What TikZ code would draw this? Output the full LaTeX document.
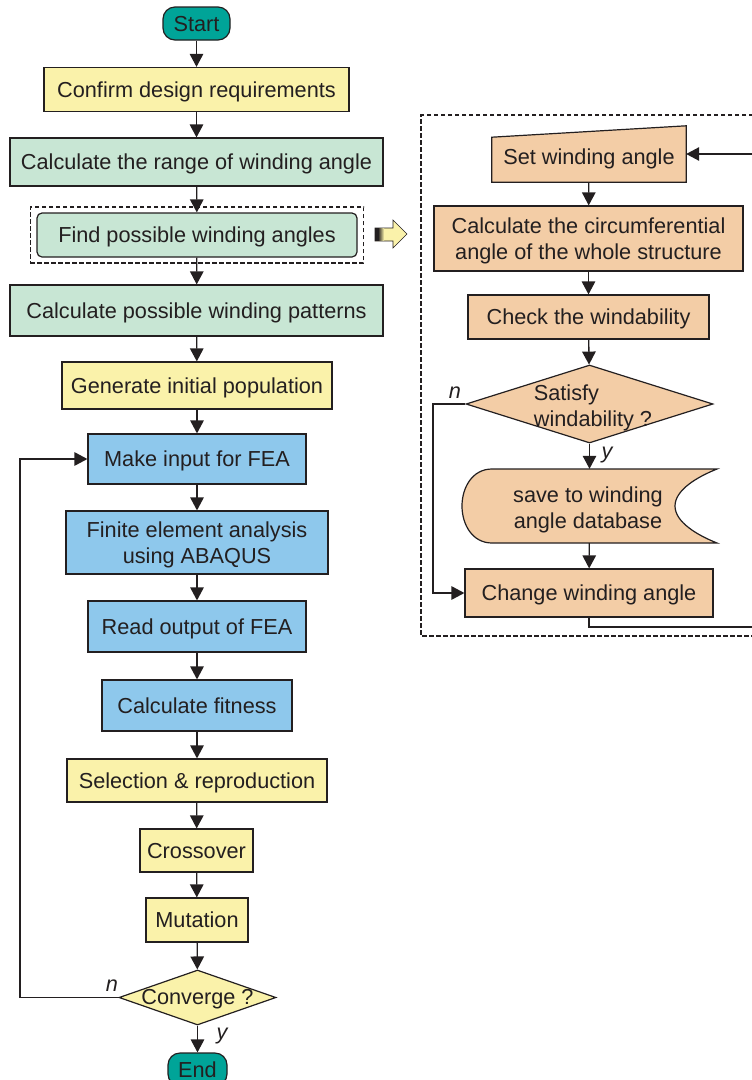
\documentclass[tikz,border=0pt]{standalone}
\usepackage{fontspec}
\setmainfont{Liberation Sans}
\usetikzlibrary{arrows.meta,shapes.geometric,fit}
\definecolor{ink}{RGB}{35,31,32}
\definecolor{tealf}{RGB}{0,164,152}
\definecolor{yelf}{RGB}{250,242,170}
\definecolor{grnf}{RGB}{200,230,212}
\definecolor{bluf}{RGB}{142,200,236}
\definecolor{pchf}{RGB}{243,205,166}
\tikzset{
  base/.style={draw=ink, line width=1.2pt, inner sep=0pt, align=center, text=ink,
    font=\fontsize{21.7}{26}\selectfont, text height=15.6pt, text depth=0pt},
  two/.style={text height=41.6pt, text depth=0pt},
  boxy/.style={base, fill=yelf},
  boxg/.style={base, fill=grnf},
  boxb/.style={base, fill=bluf},
  boxp/.style={base, fill=pchf},
  term/.style={base, fill=tealf, rounded corners=12pt},
  dec/.style={base, diamond, aspect=2.8},
  arr/.style={draw=ink, line width=1.3pt, -{Triangle[length=13pt,width=13.5pt]}},
  ln/.style={draw=ink, line width=1.3pt},
  lab/.style={text=ink, font=\fontsize{21.7}{26}\selectfont\itshape, inner sep=0pt},
  txt/.style={text=ink, font=\fontsize{21.7}{26}\selectfont, inner sep=0pt, align=center},
  dsh/.style={draw=ink, line width=1.6pt, dash pattern=on 4.5pt off 2.5pt},
}
\begin{document}
\begin{tikzpicture}[x=1pt,y=-1pt]
\useasboundingbox (0,0) rectangle (752,1080);
% ---------- left column ----------
\node[term, minimum width=67pt, minimum height=33pt] (start) at (196.5,23.5) {Start};
\node[boxy, minimum width=305pt, minimum height=44pt] (confirm) at (196.5,89.5) {Confirm design requirements};
\node[boxg, minimum width=373pt, minimum height=48pt] (range) at (196.5,162) {Calculate the range of winding angle};
\node[boxg, rounded corners=5pt, minimum width=320pt, minimum height=44pt] (find) at (197,235) {Find possible winding angles};
\node[dsh, fit=(find), inner xsep=6pt, inner ysep=5.5pt] (findbox) {};
\node[boxg, minimum width=373pt, minimum height=51pt] (patt) at (196.5,310.5) {Calculate possible winding patterns};
\node[boxy, minimum width=270pt, minimum height=47pt] (pop) at (197,385.5) {Generate initial population};
\node[boxb, minimum width=218pt, minimum height=50pt] (make) at (197,459) {Make input for FEA};
\node[boxb, two, minimum width=262pt, minimum height=63pt] (fea) at (197,542.5) {Finite element analysis\\using ABAQUS};
\node[boxb, minimum width=218pt, minimum height=51pt] (read) at (197,626.5) {Read output of FEA};
\node[boxb, minimum width=190pt, minimum height=51pt] (fit) at (197,705.5) {Calculate fitness};
\node[boxy, minimum width=260pt, minimum height=43pt] (sel) at (197,780.5) {Selection \& reproduction};
\node[boxy, minimum width=113pt, minimum height=43pt] (cross) at (196.5,850.5) {Crossover};
\node[boxy, minimum width=102pt, minimum height=44pt] (mut) at (197,920) {Mutation};
\node[dec, fill=yelf, minimum width=157pt, minimum height=55pt, inner sep=0pt] (conv) at (197.5,997.5) {};
\node[txt] (convt) at (197.5,999) {Converge ?};
\node[term, minimum width=59pt, minimum height=33pt] (end) at (197.5,1069.5) {End};
\draw[arr] (start) -- (confirm);
\draw[arr] (confirm) -- (range);
\draw[arr] (range) -- (find);
\draw[arr] (find) -- (patt);
\draw[arr] (patt) -- (pop);
\draw[arr] (pop) -- (make);
\draw[arr] (make) -- (fea);
\draw[arr] (fea) -- (read);
\draw[arr] (read) -- (fit);
\draw[arr] (fit) -- (sel);
\draw[arr] (sel) -- (cross);
\draw[arr] (cross) -- (mut);
\draw[arr] (mut) -- (conv);
\draw[arr] (conv) -- (end);
\coordinate (l1) at (20,997.5);
\draw[arr] (conv.west) -- (l1) |- (make.west);
\node[lab] at (112,986) {n};
\node[lab] at (222,1036) {y};
% ---------- yellow block arrow ----------
\filldraw[fill=yelf, draw=ink, line width=0.6pt] (375,228) -- (393,228) -- (393,220) -- (407,234) -- (393,248) -- (393,241) -- (375,241) -- cycle;
\fill[ink] (375,228) rectangle (378,241);
\shade[left color=ink, right color=yelf] (378,228.3) rectangle (384,240.7);
% ---------- right panel ----------
\draw[dsh] (753,115) -- (421,115) -- (421,636) -- (753,636);
\node[inner sep=0pt, minimum width=194pt, minimum height=56pt] (set) at (589,154) {};
\filldraw[fill=pchf, draw=ink, line width=1.2pt] (set.south west) -- ++(0,-45) -- (set.north east) -- (set.south east) -- cycle;
\node[txt] (sett) at (589,158.5) {Set winding angle};
\node[boxp, two, minimum width=309pt, minimum height=65pt] (circ) at (588.5,238.5) {Calculate the circumferential\\angle of the whole structure};
\node[boxp, minimum width=241pt, minimum height=44pt] (check) at (588.5,317) {Check the windability};
\node[dec, fill=pchf, minimum width=247pt, minimum height=78pt, inner sep=0pt] (sat) at (589.5,404) {};
\node[txt, align=left] (satt) at (593,407.5) {Satisfy\\windability ?};
\node[inner sep=0pt, minimum width=255pt, minimum height=74pt] (save) at (589.5,506) {};
\filldraw[fill=pchf, draw=ink, line width=1.2pt]
  (492,469) -- (717,469) .. controls (697,477) and (675,490) .. (675,506)
  .. controls (675,522) and (697,535) .. (717,543) -- (492,543)
  .. controls (472,543) and (462,524) .. (462,506)
  .. controls (462,488) and (472,469) .. (492,469) -- cycle;
\node[txt] (savet) at (588,509.5) {save to winding\\angle database};
\node[boxp, minimum width=248pt, minimum height=48pt] (change) at (589,593) {Change winding angle};
\draw[arr] (set) -- (circ);
\draw[arr] (circ) -- (check);
\draw[arr] (check) -- (sat);
\draw[arr] (sat) -- (save);
\draw[arr] (save) -- (change);
\coordinate (r0) at (433,404);
\draw[arr] (sat.west) -- (r0) |- (change.west);
\coordinate (r1) at (757,627);
\draw[arr] (change.south) |- (r1) |- (set.east);
\node[lab] at (455,393) {n};
\node[lab] at (607,455) {y};
\end{tikzpicture}
\end{document}
